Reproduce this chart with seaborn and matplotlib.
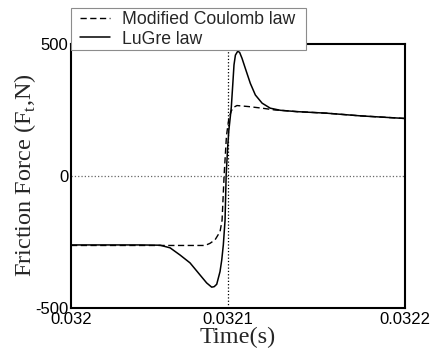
import numpy as np
import pandas as pd
import matplotlib
matplotlib.use("Agg")
import matplotlib.pyplot as plt
import seaborn as sns
from matplotlib.patches import Rectangle

# Datos (tiempo en microsegundos desde 0.032 s, fuerza en N)
t_lugre_us = [0, 44, 56.7, 63.1, 69.4, 75.8, 82.2, 86.4, 89.6, 91.2, 92.8, 94.9,
              96.0, 97.0, 98.1, 98.8, 99.8, 100.5, 101.5, 102.1, 103.0, 103.8,
              104.7, 106.2, 107.4, 108.9, 111.0, 114.2, 117.4, 121.7, 126.9,
              133.3, 143.8, 162.9, 184.1, 212.7]
f_lugre = [-263, -263, -264, -274, -301, -331, -377, -407, -423, -421, -412, -364,
           -320, -263, -170, 0, 110, 170, 225, 260, 343, 419,
           456, 471, 466, 444, 406, 349, 305, 274, 255,
           247, 242, 236, 226, 216]

t_coulomb_us = [0, 85.4, 88.5, 91.7, 94.9, 96.2, 97.5, 99.0, 100.5, 102.1, 103.5,
                105.7, 113.2, 121.7, 130.1, 133.3, 143.8, 162.9, 184.1, 212.7]
f_coulomb = [-265, -265, -257, -244, -213, -170, 0, 150, 215, 245, 258,
             265, 261, 255, 248, 247, 242, 236, 226, 216]

t0 = 0.032
x_ticks = [0.032, 0.0321, 0.0322127]
x_ticklabels = ['0.032', '0.0321', '0.0322']
y_ticks = [-500, 0, 500]

df_lugre = pd.DataFrame({'t': t0 + np.array(t_lugre_us) * 1e-6, 'F': f_lugre})
df_coul = pd.DataFrame({'t': t0 + np.array(t_coulomb_us) * 1e-6, 'F': f_coulomb})

sns.set_style('white')
plt.rcParams['font.family'] = ['Liberation Sans', 'DejaVu Sans']
plt.rcParams['axes.unicode_minus'] = False

fig = plt.figure(figsize=(4.35, 3.52), dpi=100)
ax = fig.add_axes([71/435, 1 - 307.5/352, 334/435, 264/352])

# lineas de referencia punteadas
ax.axhline(0, color='0.4', ls=':', lw=0.9, zorder=1)
ax.axvline(0.0321, color='black', ls=':', lw=0.9, zorder=1)

sns.lineplot(data=df_coul, x='t', y='F', ax=ax, color='black', lw=1.0,
             linestyle=(0, (4.5, 2.5)), label='Modified Coulomb law', legend=False)
sns.lineplot(data=df_lugre, x='t', y='F', ax=ax, color='black', lw=1.1,
             label='LuGre law', legend=False)

ax.set_xlim(x_ticks[0], x_ticks[-1])
ax.set_ylim(-500, 500)
ax.set_xticks(x_ticks)
ax.set_xticklabels(x_ticklabels)
ax.set_yticks(y_ticks)
ax.tick_params(direction='in', length=4, width=1, labelsize=12, pad=2, colors='black')
ax.tick_params(axis='x', pad=3)
for s in ax.spines.values():
    s.set_color('black')
    s.set_linewidth(1.5)

ax.set_xlabel('Time(s)', family='Liberation Serif', fontsize=17.5, labelpad=0)
ax.set_ylabel('Friction Force (F$_\\mathregular{t}$,N)', family='Liberation Serif',
              fontsize=17.5, labelpad=-2)

# caja de la leyenda
fig.patches.append(Rectangle((71/435, 1 - 50/352), 235/435, 42/352,
                             transform=fig.transFigure, facecolor='white',
                             edgecolor='0.55', lw=0.8, zorder=4))
h, l = ax.get_legend_handles_labels()
fig.legend(h, l, loc='upper left', bbox_to_anchor=(80/435, 1 - 11.5/352),
           borderaxespad=0, borderpad=0, frameon=False, fontsize=12.7,
           handlelength=1.7, handletextpad=0.7, labelspacing=0.12)

fig.savefig('out.png', dpi=100)
